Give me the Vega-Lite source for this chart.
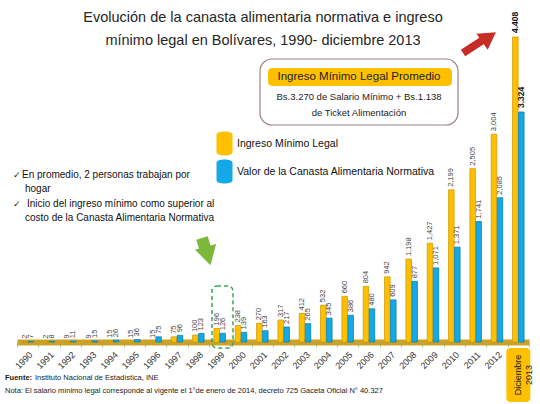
{
  "$schema": "https://vega.github.io/schema/vega-lite/v6.json",
  "width": 512,
  "height": 305,
  "autosize": "none",
  "padding": {"left": 17, "top": 37, "right": 11, "bottom": 62},
  "background": "white",
  "config": {
    "view": {"stroke": null},
    "font": "Liberation Sans",
    "text": {"font": "Liberation Sans"}
  },
  "data": {
    "values": [
      {"periodo": "1990", "ingreso": 2, "canasta": 7},
      {"periodo": "1991", "ingreso": 2, "canasta": 8},
      {"periodo": "1992", "ingreso": 9, "canasta": 11},
      {"periodo": "1993", "ingreso": 9, "canasta": 15},
      {"periodo": "1994", "ingreso": 15, "canasta": 26},
      {"periodo": "1995", "ingreso": 15, "canasta": 36},
      {"periodo": "1996", "ingreso": 15, "canasta": 75},
      {"periodo": "1997", "ingreso": 75, "canasta": 96},
      {"periodo": "1998", "ingreso": 100, "canasta": 123},
      {"periodo": "1999", "ingreso": 196, "canasta": 126},
      {"periodo": "2000", "ingreso": 238, "canasta": 139},
      {"periodo": "2001", "ingreso": 270, "canasta": 163},
      {"periodo": "2002", "ingreso": 317, "canasta": 217},
      {"periodo": "2003", "ingreso": 412, "canasta": 265},
      {"periodo": "2004", "ingreso": 532, "canasta": 345},
      {"periodo": "2005", "ingreso": 660, "canasta": 386},
      {"periodo": "2006", "ingreso": 804, "canasta": 480},
      {"periodo": "2007", "ingreso": 942, "canasta": 609},
      {"periodo": "2008", "ingreso": 1198, "canasta": 877},
      {"periodo": "2009", "ingreso": 1427, "canasta": 1071},
      {"periodo": "2010", "ingreso": 2199, "canasta": 1371},
      {"periodo": "2011", "ingreso": 2505, "canasta": 1741},
      {"periodo": "2012", "ingreso": 3004, "canasta": 2085},
      {"periodo": "Diciembre 2013", "ingreso": 4408, "canasta": 3324}
    ]
  },
  "transform": [{"fold": ["ingreso", "canasta"], "as": ["serie", "valor"]}],
  "layer": [
    {
      "mark": {"type": "bar", "width": 5.5, "strokeWidth": 0.8},
      "encoding": {
        "x": {
          "field": "periodo", "type": "nominal", "sort": null,
          "scale": {"paddingInner": 0, "paddingOuter": 0},
          "axis": {
            "title": null, "labelAngle": -45, "labelFontSize": 9, "labelColor": "#333",
            "labelFont": "Liberation Sans", "tickSize": 5, "tickColor": "#bbbbbb",
            "tickBand": "extent", "domainColor": "#C9A227", "domainWidth": 6, "labelPadding": 3,
            "labelExpr": "datum.value == 'Diciembre 2013' ? '' : datum.value"
          }
        },
        "xOffset": {"field": "serie", "type": "nominal", "sort": ["ingreso", "canasta"], "scale": {"paddingInner": 0, "paddingOuter": 0.78}},
        "y": {"field": "valor", "type": "quantitative", "scale": {"domain": [0, 4408], "nice": false}, "axis": null},
        "color": {
          "field": "serie", "type": "nominal",
          "scale": {"domain": ["ingreso", "canasta"], "range": ["#FFC000", "#14A9E6"]},
          "legend": {
            "title": null, "orient": "none", "legendX": 195, "legendY": 94,
            "symbolType": "M-0.64,-0.7 C-0.64,-1.05 0.64,-1.05 0.64,-0.7 L0.64,0.7 C0.64,1.05 -0.64,1.05 -0.64,0.7 Z",
            "symbolSize": 625, "symbolStrokeWidth": 0, "symbolOpacity": 1,
            "labelFontSize": 10.5, "labelFont": "Liberation Sans", "labelColor": "#111",
            "labelOffset": 0, "rowPadding": 3, "labelLimit": 300,
            "labelExpr": "datum.value == 'ingreso' ? 'Ingreso Mínimo Legal' : 'Valor de la Canasta Alimentaria Normativa'"
          }
        },
        "stroke": {
          "field": "serie", "type": "nominal",
          "scale": {"domain": ["ingreso", "canasta"], "range": ["#D39A00", "#0B82BC"]},
          "legend": null
        }
      }
    },
    {
      "transform": [{"filter": "datum.periodo != 'Diciembre 2013'"}],
      "mark": {"type": "text", "angle": 270, "align": "left", "baseline": "middle", "dx": 3, "fontSize": 7.5, "color": "#444"},
      "encoding": {
        "x": {"field": "periodo", "type": "nominal", "sort": null},
        "xOffset": {"field": "serie", "type": "nominal", "sort": ["ingreso", "canasta"]},
        "y": {"field": "valor", "type": "quantitative"},
        "text": {"field": "valor", "type": "quantitative", "format": ",d"}
      }
    },
    {
      "transform": [
        {"filter": "datum.periodo == 'Diciembre 2013'"},
        {"calculate": "replace(format(datum.valor, ',d'), ',', '.')", "as": "etiqueta"}
      ],
      "mark": {"type": "text", "angle": 270, "align": "left", "baseline": "middle", "dx": 4, "fontSize": 8.5, "fontWeight": "bold", "color": "#111"},
      "encoding": {
        "x": {"field": "periodo", "type": "nominal", "sort": null},
        "xOffset": {"field": "serie", "type": "nominal", "sort": ["ingreso", "canasta"]},
        "y": {"field": "valor", "type": "quantitative"},
        "text": {"field": "etiqueta", "type": "nominal"}
      }
    },
    {
      "transform": [{"filter": "datum.periodo == 'Diciembre 2013' && datum.serie == 'ingreso'"}],
      "layer": [
        {
          "mark": {"type": "bar", "width": 24, "cornerRadius": 4, "color": "#FFC000"},
          "encoding": {
            "x": {"field": "periodo", "type": "nominal", "sort": null},
            "y": {"value": 311},
            "y2": {"value": 365}
          }
        },
        {
          "mark": {"type": "text", "angle": 270, "align": "center", "baseline": "middle", "fontSize": 9, "lineHeight": 11, "color": "#222"},
          "encoding": {
            "x": {"field": "periodo", "type": "nominal", "sort": null},
            "y": {"value": 338},
            "text": {"value": ["Diciembre", "2013"]}
          }
        }
      ]
    },
    {
      "data": {"values": [{}]},
      "layer": [
        {
          "mark": {"type": "text", "align": "center", "baseline": "alphabetic", "fontSize": 14.5, "lineHeight": 23, "color": "#262626"},
          "encoding": {
            "x": {"value": 246}, "y": {"value": -15},
            "text": {"value": ["Evolución de la canasta alimentaria normativa e ingreso", "mínimo legal en Bolívares, 1990- diciembre 2013"]}
          }
        },
        {
          "mark": {"type": "rect", "cornerRadius": 12, "fill": "white", "stroke": "#A08080", "strokeWidth": 1.2},
          "encoding": {"x": {"value": 243}, "x2": {"value": 441}, "y": {"value": 22}, "y2": {"value": 88}}
        },
        {
          "mark": {"type": "rect", "cornerRadius": 4, "fill": "#FFC000"},
          "encoding": {"x": {"value": 251}, "x2": {"value": 435}, "y": {"value": 31}, "y2": {"value": 49}}
        },
        {
          "mark": {"type": "text", "align": "center", "baseline": "middle", "fontSize": 11.5, "color": "#222"},
          "encoding": {"x": {"value": 342}, "y": {"value": 40}, "text": {"value": "Ingreso Mínimo Legal Promedio"}}
        },
        {
          "mark": {"type": "text", "align": "center", "baseline": "alphabetic", "fontSize": 9.5, "lineHeight": 16, "color": "#222"},
          "encoding": {"x": {"value": 342}, "y": {"value": 63}, "text": {"value": ["Bs.3.270 de Salario Mínimo + Bs.1.138", "de Ticket Alimentación"]}}
        },
        {
          "mark": {"type": "rule", "strokeWidth": 8, "color": "#C62D25", "strokeCap": "butt"},
          "encoding": {"x": {"value": 446}, "y": {"value": 16}, "x2": {"value": 466}, "y2": {"value": 3}}
        },
        {
          "mark": {"type": "point", "shape": "triangle-up", "filled": true, "size": 380, "angle": 55, "color": "#C62D25", "opacity": 1},
          "encoding": {"x": {"value": 472}, "y": {"value": 0}}
        },
        {
          "mark": {"type": "rule", "strokeWidth": 12, "color": "#7CB93A", "strokeCap": "butt"},
          "encoding": {"x": {"value": 185}, "y": {"value": 201}, "x2": {"value": 189}, "y2": {"value": 214}}
        },
        {
          "mark": {"type": "point", "shape": "triangle-down", "filled": true, "size": 480, "angle": -15, "color": "#7CB93A", "opacity": 1},
          "encoding": {"x": {"value": 191}, "y": {"value": 219}}
        },
        {
          "mark": {"type": "rect", "cornerRadius": 5, "filled": false, "stroke": "#3BA55C", "strokeWidth": 1.5, "strokeDash": [4, 3]},
          "encoding": {"x": {"value": 195}, "x2": {"value": 216}, "y": {"value": 249}, "y2": {"value": 311}}
        },
        {
          "mark": {"type": "text", "align": "left", "baseline": "middle", "fontSize": 9, "font": "DejaVu Sans", "color": "#222"},
          "encoding": {"x": {"value": -4}, "y": {"value": 138}, "text": {"value": "✓"}}
        },
        {
          "mark": {"type": "text", "align": "left", "baseline": "middle", "fontSize": 9, "font": "DejaVu Sans", "color": "#222"},
          "encoding": {"x": {"value": -4}, "y": {"value": 167}, "text": {"value": "✓"}}
        },
        {
          "mark": {"type": "text", "align": "left", "baseline": "middle", "fontSize": 10, "color": "#111"},
          "encoding": {"x": {"value": 5}, "y": {"value": 138}, "text": {"value": "En promedio, 2 personas trabajan por"}}
        },
        {
          "mark": {"type": "text", "align": "left", "baseline": "middle", "fontSize": 10, "color": "#111"},
          "encoding": {"x": {"value": 8}, "y": {"value": 152}, "text": {"value": "hogar"}}
        },
        {
          "mark": {"type": "text", "align": "left", "baseline": "middle", "fontSize": 10, "color": "#111"},
          "encoding": {"x": {"value": 10}, "y": {"value": 167}, "text": {"value": "Inicio del ingreso mínimo como superior al"}}
        },
        {
          "mark": {"type": "text", "align": "left", "baseline": "middle", "fontSize": 10, "color": "#111"},
          "encoding": {"x": {"value": 8}, "y": {"value": 181}, "text": {"value": "costo de la Canasta Alimentaria Normativa"}}
        },
        {
          "mark": {"type": "text", "align": "left", "baseline": "middle", "fontSize": 7.5, "fontWeight": "bold", "color": "#1a1a1a"},
          "encoding": {"x": {"value": -12}, "y": {"value": 341}, "text": {"value": "Fuente:"}}
        },
        {
          "mark": {"type": "text", "align": "left", "baseline": "middle", "fontSize": 7.5, "color": "#1a1a1a"},
          "encoding": {"x": {"value": 18}, "y": {"value": 341}, "text": {"value": "Instituto Nacional de Estadística, INE"}}
        },
        {
          "mark": {"type": "text", "align": "left", "baseline": "middle", "fontSize": 7.5, "color": "#1a1a1a"},
          "encoding": {"x": {"value": -12}, "y": {"value": 354}, "text": {"value": "Nota: El salario mínimo legal corresponde al vigente el 1°de enero de 2014, decreto 725 Gaceta Oficial N° 40.327"}}
        }
      ]
    }
  ]
}
